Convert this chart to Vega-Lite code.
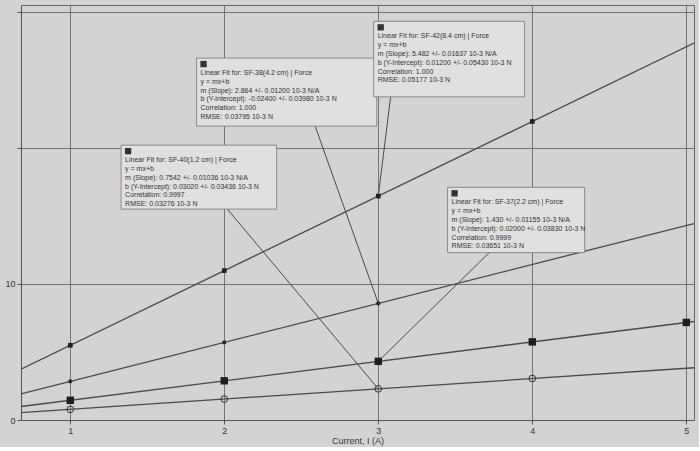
{
  "$schema": "https://vega.github.io/schema/vega-lite/v6.json",
  "width": 673,
  "height": 415,
  "padding": {"left": 4, "top": 5, "right": 5, "bottom": 2},
  "background": "#d3d3d3",
  "config": {
    "view": {"stroke": "#666666", "strokeWidth": 1},
    "font": "Liberation Sans",
    "axis": {"gridColor": "#6a6a6a", "gridWidth": 0.9, "gridOpacity": 1, "domainColor": "#555555", "tickColor": "#555555", "labelColor": "#333333", "labelFontSize": 9, "titleFontSize": 9, "titleFontWeight": "normal", "titleColor": "#333333", "labelFont": "Liberation Sans", "titleFont": "Liberation Sans"}
  },
  "datasets": {
    "fits": [
      {"series": "SF-42", "current": 0.68, "force": 3.74},
      {"series": "SF-42", "current": 5.05, "force": 27.70},
      {"series": "SF-38", "current": 0.68, "force": 1.92},
      {"series": "SF-38", "current": 5.05, "force": 14.44},
      {"series": "SF-37", "current": 0.68, "force": 0.99},
      {"series": "SF-37", "current": 5.05, "force": 7.24},
      {"series": "SF-40", "current": 0.68, "force": 0.54},
      {"series": "SF-40", "current": 5.05, "force": 3.84}
    ],
    "points": [
      {"series": "SF-42", "current": 1, "force": 5.49},
      {"series": "SF-42", "current": 2, "force": 10.98},
      {"series": "SF-42", "current": 3, "force": 16.46},
      {"series": "SF-42", "current": 4, "force": 21.94},
      {"series": "SF-38", "current": 1, "force": 2.84},
      {"series": "SF-38", "current": 2, "force": 5.70},
      {"series": "SF-38", "current": 3, "force": 8.57},
      {"series": "SF-37", "current": 1, "force": 1.45},
      {"series": "SF-37", "current": 2, "force": 2.88},
      {"series": "SF-37", "current": 3, "force": 4.31},
      {"series": "SF-37", "current": 4, "force": 5.74},
      {"series": "SF-37", "current": 5, "force": 7.17},
      {"series": "SF-40", "current": 1, "force": 0.78},
      {"series": "SF-40", "current": 2, "force": 1.54},
      {"series": "SF-40", "current": 3, "force": 2.29},
      {"series": "SF-40", "current": 4, "force": 3.05}
    ],
    "boxes": [
      {"series": "SF-38", "x1": 1.82, "x2": 2.99, "y1": 26.6, "y2": 21.6, "label": "Linear Fit for: SF-38(4.2 cm) | Force\ny = mx+b\nm (Slope): 2.864 +/- 0.01200 10-3 N/A\nb (Y-Intercept): -0.02400 +/- 0.03980 10-3 N\nCorrelation: 1.000\nRMSE: 0.03795 10-3 N"},
      {"series": "SF-40", "x1": 1.33, "x2": 2.34, "y1": 20.2, "y2": 15.5, "label": "Linear Fit for: SF-40(1.2 cm) | Force\ny = mx+b\nm (Slope): 0.7542 +/- 0.01036 10-3 N/A\nb (Y-Intercept): 0.03020 +/- 0.03436 10-3 N\nCorrelation: 0.9997\nRMSE: 0.03276 10-3 N"},
      {"series": "SF-42", "x1": 2.97, "x2": 3.95, "y1": 29.3, "y2": 23.75, "label": "Linear Fit for: SF-42(8.4 cm) | Force\ny = mx+b\nm (Slope): 5.482 +/- 0.01637 10-3 N/A\nb (Y-Intercept): 0.01200 +/- 0.05430 10-3 N\nCorrelation: 1.000\nRMSE: 0.05177 10-3 N"},
      {"series": "SF-37", "x1": 3.45, "x2": 4.34, "y1": 17.1, "y2": 12.3, "label": "Linear Fit for: SF-37(2.2 cm) | Force\ny = mx+b\nm (Slope): 1.430 +/- 0.01155 10-3 N/A\nb (Y-Intercept): 0.02000 +/- 0.03830 10-3 N\nCorrelation: 0.9999\nRMSE: 0.03651 10-3 N"}
    ],
    "leaders": [
      {"series": "SF-42", "bx": 3.08, "by": 23.75, "px": 3, "py": 16.46},
      {"series": "SF-38", "bx": 2.59, "by": 21.6, "px": 3, "py": 8.57},
      {"series": "SF-40", "bx": 2.02, "by": 15.5, "px": 3, "py": 2.29},
      {"series": "SF-37", "bx": 3.72, "by": 12.3, "px": 3, "py": 4.31}
    ]
  },
  "layer": [
    {
      "data": {"name": "fits"},
      "mark": {"type": "line", "color": "#4a4a4a", "strokeWidth": 1.3, "clip": true},
      "encoding": {
        "x": {"field": "current", "type": "quantitative", "scale": {"domain": [0.68, 5.05], "nice": false, "zero": false},
              "axis": {"title": "Current, I (A)", "values": [1, 2, 3, 4, 5], "format": "d", "grid": true, "tickSize": 4, "labelPadding": 2, "titlePadding": 1}},
        "y": {"field": "force", "type": "quantitative", "scale": {"domain": [0, 30.5], "nice": false},
              "axis": {"title": null, "values": [0, 10, 20, 30], "grid": true, "tickSize": 4, "labelPadding": 2, "labelExpr": "datum.value <= 10 ? datum.label : ''"}},
        "detail": {"field": "series", "type": "nominal"}
      }
    },
    {
      "data": {"name": "leaders"},
      "mark": {"type": "rule", "color": "#4a4a4a", "strokeWidth": 1},
      "encoding": {
        "x": {"field": "bx", "type": "quantitative"},
        "y": {"field": "by", "type": "quantitative"},
        "x2": {"field": "px"},
        "y2": {"field": "py"}
      }
    },
    {
      "data": {"name": "points"},
      "transform": [{"filter": "datum.series === 'SF-42'"}],
      "mark": {"type": "point", "shape": "square", "filled": true, "color": "#222222", "size": 22, "opacity": 1},
      "encoding": {
        "x": {"field": "current", "type": "quantitative"},
        "y": {"field": "force", "type": "quantitative"}
      }
    },
    {
      "data": {"name": "points"},
      "transform": [{"filter": "datum.series === 'SF-38'"}],
      "mark": {"type": "point", "shape": "circle", "filled": true, "color": "#2a2a2a", "size": 18, "opacity": 1},
      "encoding": {
        "x": {"field": "current", "type": "quantitative"},
        "y": {"field": "force", "type": "quantitative"}
      }
    },
    {
      "data": {"name": "points"},
      "transform": [{"filter": "datum.series === 'SF-37'"}],
      "mark": {"type": "point", "shape": "square", "filled": true, "color": "#1e1e1e", "size": 55, "opacity": 1},
      "encoding": {
        "x": {"field": "current", "type": "quantitative"},
        "y": {"field": "force", "type": "quantitative"}
      }
    },
    {
      "data": {"name": "points"},
      "transform": [{"filter": "datum.series === 'SF-40'"}],
      "mark": {"type": "point", "shape": "circle", "filled": false, "color": "#333333", "strokeWidth": 1, "size": 45, "opacity": 1},
      "encoding": {
        "x": {"field": "current", "type": "quantitative"},
        "y": {"field": "force", "type": "quantitative"}
      }
    },
    {
      "data": {"name": "boxes"},
      "mark": {"type": "rect", "fill": "#e0e0e0", "stroke": "#8a8a8a", "strokeWidth": 1},
      "encoding": {
        "x": {"field": "x1", "type": "quantitative"},
        "x2": {"field": "x2"},
        "y": {"field": "y1", "type": "quantitative"},
        "y2": {"field": "y2"}
      }
    },
    {
      "data": {"name": "boxes"},
      "mark": {"type": "point", "shape": "square", "filled": true, "color": "#333333", "size": 40, "xOffset": 7, "yOffset": 6, "opacity": 1},
      "encoding": {
        "x": {"field": "x1", "type": "quantitative"},
        "y": {"field": "y1", "type": "quantitative"}
      }
    },
    {
      "data": {"name": "boxes"},
      "mark": {"type": "text", "align": "left", "baseline": "top", "dx": 4, "dy": 11, "fontSize": 7, "lineHeight": 8.8, "lineBreak": "\n", "color": "#333333", "font": "Liberation Sans"},
      "encoding": {
        "x": {"field": "x1", "type": "quantitative"},
        "y": {"field": "y1", "type": "quantitative"},
        "text": {"field": "label", "type": "nominal"}
      }
    }
  ]
}
